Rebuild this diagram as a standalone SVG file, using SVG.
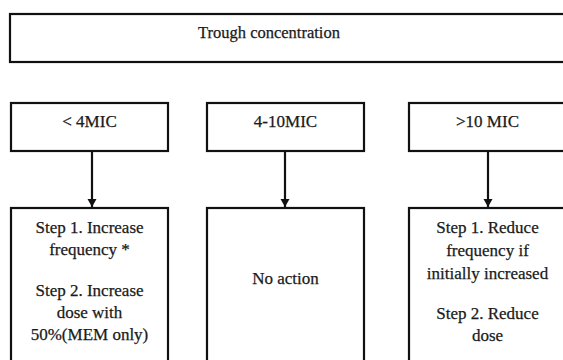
<svg xmlns="http://www.w3.org/2000/svg" width="563" height="360" viewBox="0 0 563 360">
<style>
.box{fill:#fff;stroke:#111;stroke-width:2.2}
.t{font-family:"Liberation Serif","Times New Roman",serif;font-size:17px;fill:#1a1a1a;stroke:#1a1a1a;stroke-width:0.25;text-anchor:middle}
.c{stroke:#111;stroke-width:2.2;fill:none}
</style>
<defs>
<marker id="ah" markerWidth="10" markerHeight="10" refX="8" refY="5" orient="auto" markerUnits="userSpaceOnUse">
<path d="M0,0.5 L8,5 L0,9.5 Z" fill="#111"/>
</marker>
</defs>
<rect width="563" height="360" fill="#fff"/>
<g id="top">
<rect class="box" x="10" y="14" width="562" height="48"/>
<text class="t" x="269" y="38" style="font-size:16.5px">Trough concentration</text>
</g>
<g id="lt4">
<rect class="box" x="11" y="103" width="157" height="48"/>
<text class="t" x="89.5" y="127">&lt; 4MIC</text>
</g>
<g id="mid">
<rect class="box" x="207" y="103" width="157" height="48"/>
<text class="t" x="285.5" y="127">4-10MIC</text>
</g>
<g id="gt10">
<rect class="box" x="409" y="103" width="157" height="48"/>
<text class="t" x="487.5" y="127">&gt;10 MIC</text>
</g>
<g id="act1">
<rect class="box" x="11" y="208" width="157" height="160"/>
<text class="t" x="89.5" y="233">Step 1. Increase</text>
<text class="t" x="89.5" y="255">frequency *</text>
<text class="t" x="89.5" y="296">Step 2. Increase</text>
<text class="t" x="89.5" y="318">dose with</text>
<text class="t" x="89.5" y="340">50%(MEM only)</text>
</g>
<g id="act2">
<rect class="box" x="207" y="208" width="157" height="160"/>
<text class="t" x="285.5" y="284">No action</text>
</g>
<g id="act3">
<rect class="box" x="409" y="208" width="157" height="160"/>
<text class="t" x="487.5" y="233">Step 1. Reduce</text>
<text class="t" x="487.5" y="256">frequency if</text>
<text class="t" x="487.5" y="279">initially increased</text>
<text class="t" x="487.5" y="319">Step 2. Reduce</text>
<text class="t" x="487.5" y="341">dose</text>
</g>
<g id="connectors">
<line class="c" x1="92" y1="151" x2="92" y2="207" marker-end="url(#ah)"/>
<line class="c" x1="285" y1="151" x2="285" y2="207" marker-end="url(#ah)"/>
<line class="c" x1="488" y1="151" x2="488" y2="207" marker-end="url(#ah)"/>
</g>
</svg>
